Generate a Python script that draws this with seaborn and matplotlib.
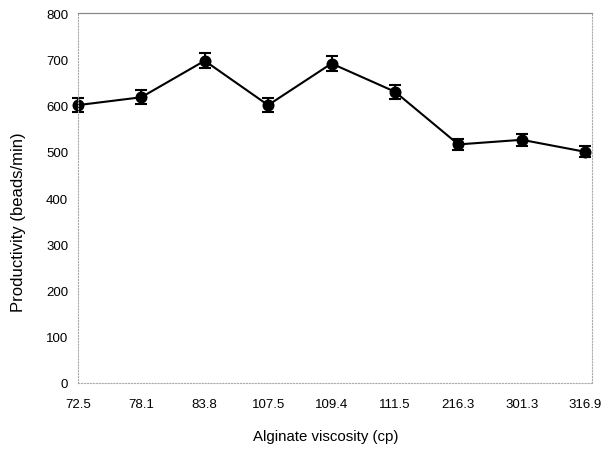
import matplotlib
matplotlib.use("Agg")
import matplotlib.pyplot as plt
import seaborn as sns
import pandas as pd

viscosity = ["72.5", "78.1", "83.8", "107.5", "109.4", "111.5", "216.3", "301.3", "316.9"]
productivity = [601, 618, 697, 601, 691, 630, 516, 526, 500]
errors = [15, 15, 16, 15, 16, 15, 12, 13, 12]

sns.set_theme(style="white")
plt.rcParams['font.family'] = ['Liberation Sans', 'DejaVu Sans']

df = pd.DataFrame({"visc": viscosity, "prod": productivity})

fig = plt.figure(figsize=(6.08, 4.56), dpi=100)
ax = fig.add_axes([0.128, 0.158, 0.846, 0.811])

sns.pointplot(data=df, x="visc", y="prod", order=viscosity, color="black",
              errorbar=None, markers="o", linewidth=1.5, markersize=7.5, ax=ax)
ax.errorbar(range(len(viscosity)), productivity, yerr=errors, fmt="none",
            ecolor="black", elinewidth=1.5, capsize=4, capthick=1.5, clip_on=False)
for coll in ax.collections:
    coll.set_clip_on(False)
for ln in ax.lines:
    ln.set_clip_on(False)

ax.set_xlim(0, 8.11)
ax.set_ylim(0, 800)
ax.set_yticks(range(0, 801, 100))
ax.tick_params(axis="both", length=0, labelsize=9.5, colors="black")
ax.tick_params(axis="x", pad=11)
ax.tick_params(axis="y", pad=7)
ax.set_xlabel("Alginate viscosity (cp)", fontsize=10.8, color="black")
ax.set_ylabel("Productivity (beads/min)", fontsize=12, color="black")
ax.xaxis.set_label_coords(0.482, -0.124)
ax.yaxis.set_label_coords(-0.101, 0.438)

for side in ["left", "right", "bottom"]:
    ax.spines[side].set_linestyle(":")
    ax.spines[side].set_color("#aaaaaa")
    ax.spines[side].set_linewidth(0.8)
ax.spines["top"].set_color("#888888")
ax.spines["top"].set_linewidth(0.9)

fig.savefig("out.png", dpi=100, facecolor="white")
